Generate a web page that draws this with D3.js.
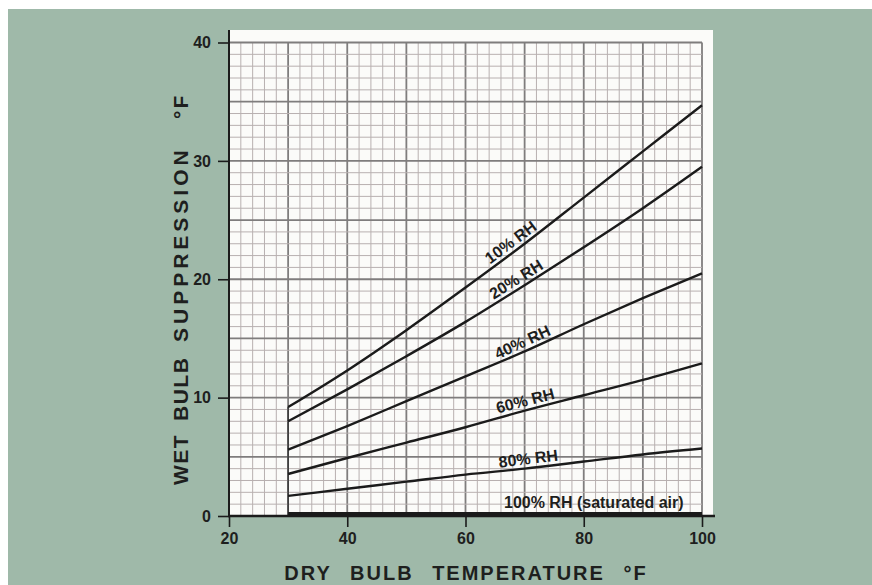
<!DOCTYPE html>
<html>
<head>
<meta charset="utf-8">
<script src="https://cdn.jsdelivr.net/npm/d3@7"></script>
<style>
  html, body { margin: 0; padding: 0; background: #ffffff; }
  svg { display: block; }
  text { font-family: "Liberation Sans", Arial, Helvetica, sans-serif; fill: #1e1f1e; }
</style>
</head>
<body>
<svg id="chart" width="872" height="585"></svg>
<script>
// Dry bulb temperature (°F) at which each curve is tabulated
const temps = [30, 40, 50, 60, 70, 80, 90, 100];

// Wet bulb suppression (°F) for each relative humidity
const rh10  = [9.2, 12.3, 15.7, 19.3, 23.0, 26.9, 30.8, 34.7];
const rh20  = [8.0, 10.7, 13.5, 16.4, 19.5, 22.7, 26.0, 29.5];
const rh40  = [5.6, 7.6, 9.7, 11.8, 13.9, 16.2, 18.4, 20.5];
const rh60  = [3.55, 4.9, 6.2, 7.5, 8.9, 10.2, 11.5, 12.9];
const rh80  = [1.7, 2.3, 2.9, 3.5, 4.0, 4.6, 5.2, 5.7];
const rh100 = [0, 0, 0, 0, 0, 0, 0, 0];

const seriesNames = ["10% RH", "20% RH", "40% RH", "60% RH", "80% RH", "100% RH (saturated air)"];
const seriesValues = [rh10, rh20, rh40, rh60, rh80, rh100];
// temperature along each curve where its name is written
const labelTemps = [68.6, 69.4, 70.3, 70.5, 70.8, 81.7];

const xTicks = [20, 40, 60, 80, 100];
const yTicks = [0, 10, 20, 30, 40];
const xTitle = "DRY BULB TEMPERATURE °F";
const yTitleWords = ["WET", "BULB", "SUPPRESSION", "°F"];

const svg = d3.select("#chart");

// page background (printed panel)
svg.append("rect").attr("x", 8).attr("y", 9).attr("width", 864).attr("height", 576)
  .attr("fill", "#9fb9a9");

const x = d3.scaleLinear().domain([20, 100]).range([229, 702]);
const y = d3.scaleLinear().domain([0, 40]).range([516, 42.5]);

// white graph-paper panel
svg.append("rect")
  .attr("x", x(20)).attr("y", 30)
  .attr("width", 713 - x(20)).attr("height", y(0) - 30)
  .attr("fill", "#fbfbf9");

// graph paper grid: minor every 2 °F / 1 °F, heavier every 10 °F / 5 °F
const grid = svg.append("g");
const xMinor = d3.range(20, 100.01, 2);
const yMinor = d3.range(0, 40.01, 1);
grid.selectAll("line.vx").data(xMinor).join("line")
  .attr("x1", d => x(d)).attr("x2", d => x(d))
  .attr("y1", y(40)).attr("y2", y(0))
  .attr("stroke", d => d % 10 === 0 ? "#7f7d7d" : "#b8b0b0")
  .attr("stroke-width", d => d % 10 === 0 ? 1.8 : 1);
grid.selectAll("line.hy").data(yMinor).join("line")
  .attr("x1", x(20)).attr("x2", x(100))
  .attr("y1", d => y(d)).attr("y2", d => y(d))
  .attr("stroke", d => d % 5 === 0 ? "#7f7d7d" : "#b8b0b0")
  .attr("stroke-width", d => d % 5 === 0 ? 1.8 : 1);

// starting edge of the chart data at 30 °F
svg.append("line")
  .attr("x1", x(temps[0])).attr("x2", x(temps[0]))
  .attr("y1", y(0)).attr("y2", y(rh10[0]))
  .attr("stroke", "#3a3a3a").attr("stroke-width", 1.6);

// curves
const line = d3.line()
  .x((d, i) => x(temps[i]))
  .y(d => y(d))
  .curve(d3.curveMonotoneX);

svg.append("g").selectAll("path").data(seriesValues).join("path")
  .attr("d", d => line(d))
  .attr("fill", "none")
  .attr("stroke", "#1b1b1b")
  .attr("stroke-width", (d, i) => i === seriesValues.length - 1 ? 4 : 2.4)
  .attr("transform", (d, i) => i === seriesValues.length - 1 ? "translate(0,-2)" : null);

// axes
const yAxis = d3.axisLeft(y).tickValues(yTicks).tickSize(11).tickPadding(7);
const xAxis = d3.axisBottom(x).tickValues(xTicks).tickSize(11).tickPadding(6);

const gy = svg.append("g").attr("transform", `translate(${x(20)},0)`).call(yAxis);
const gx = svg.append("g").attr("transform", `translate(0,${y(0)})`).call(xAxis);
[gx, gy].forEach(g => {
  g.select(".domain").remove();
  g.selectAll(".tick line").attr("stroke", "#1b1b1b").attr("stroke-width", 1.6);
  g.selectAll(".tick text")
    .attr("font-family", "'Liberation Sans', Arial, sans-serif")
    .attr("font-size", 16).attr("font-weight", "bold").attr("fill", "#1e1f1e");
});

// axis lines
svg.append("line").attr("x1", x(20)).attr("x2", x(20)).attr("y1", 30).attr("y2", y(0) + 1)
  .attr("stroke", "#1b1b1b").attr("stroke-width", 2);
svg.append("line").attr("x1", x(20) - 1).attr("x2", 715).attr("y1", y(0)).attr("y2", y(0))
  .attr("stroke", "#1b1b1b").attr("stroke-width", 2.4);

// curve names, written along each curve
function valueAt(vals, t) {
  const i = Math.min(temps.length - 2, Math.max(0, Math.floor((t - temps[0]) / 10)));
  const f = (t - temps[i]) / (temps[i + 1] - temps[i]);
  return { v: vals[i] + f * (vals[i + 1] - vals[i]), i };
}
const labels = svg.append("g");
seriesNames.forEach((name, k) => {
  const vals = seriesValues[k];
  const t = labelTemps[k];
  const { v, i } = valueAt(vals, t);
  const px = x(t), py = y(v);
  if (k === seriesNames.length - 1) {
    labels.append("text").text(name)
      .attr("x", px).attr("y", y(0) - 8)
      .attr("text-anchor", "middle")
      .attr("font-size", 16).attr("font-weight", "bold");
    return;
  }
  const ang = Math.atan2(y(vals[i + 1]) - y(vals[i]), x(temps[i + 1]) - x(temps[i])) * 180 / Math.PI;
  labels.append("text").text(name)
    .attr("transform", `translate(${px},${py}) rotate(${ang})`)
    .attr("x", 0).attr("y", -4)
    .attr("text-anchor", "middle")
    .attr("font-size", 16).attr("font-weight", "bold");
});

// axis titles
svg.append("text").text(xTitle)
  .attr("x", 466).attr("y", 580)
  .attr("text-anchor", "middle")
  .attr("font-size", 20).attr("font-weight", "bold")
  .attr("letter-spacing", 2).attr("word-spacing", 11);

// vertical title, each word set at its own place along the axis
const yWordPos = [0, 64, 143, 366];
const yWordSpacing = [1.5, 1.5, 4, 2];
const yt = svg.append("text")
  .attr("transform", "translate(188,485) rotate(-90)")
  .attr("font-size", 21).attr("font-weight", "bold");
yTitleWords.forEach((w, i) => {
  yt.append("tspan").text(w)
    .attr("x", yWordPos[i]).attr("y", 0)
    .attr("letter-spacing", yWordSpacing[i]);
});
</script>
</body>
</html>
